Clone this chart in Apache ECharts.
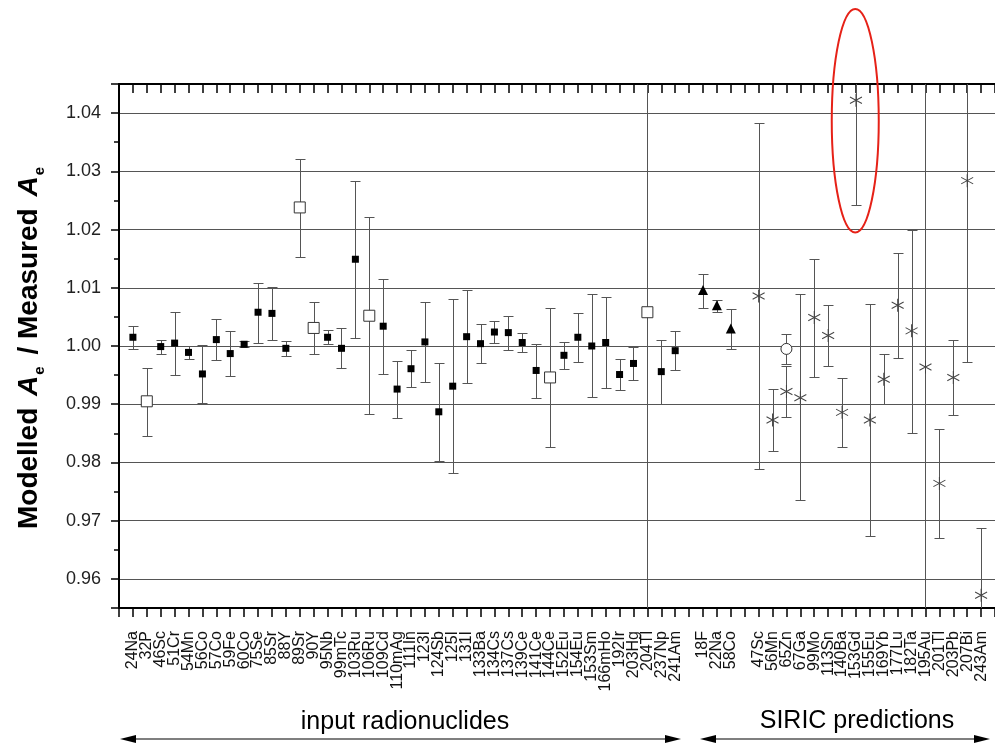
<!DOCTYPE html>
<html>
<head>
<meta charset="utf-8">
<script src="https://cdn.jsdelivr.net/npm/echarts@6/dist/echarts.min.js"></script>
<style>
html, body { margin: 0; padding: 0; background: #fff; }
#main { width: 995px; height: 744px; }
</style>
</head>
<body>
<div id="main"></div>
<script>
// x positions: index in this list ('' = empty slot)
var labels = ['', '24Na', '32P', '46Sc', '51Cr', '54Mn', '56Co', '57Co', '59Fe', '60Co', '75Se',
    '85Sr', '88Y', '89Sr', '90Y', '95Nb', '99mTc', '103Ru', '106Ru', '109Cd', '110mAg',
    '111In', '123I', '124Sb', '125I', '131I', '133Ba', '134Cs', '137Cs', '139Ce', '141Ce',
    '144Ce', '152Eu', '154Eu', '153Sm', '166mHo', '192Ir', '203Hg', '204Tl', '237Np', '241Am',
    '', '18F', '22Na', '58Co', '',
    '47Sc', '56Mn', '65Zn', '67Ga', '99Mo', '113Sn', '140Ba', '153Gd', '155Eu', '169Yb',
    '177Lu', '182Ta', '195Au', '201Tl', '203Pb', '207Bi', '243Am'];

// input radionuclides, filled squares
var sqNames = ['24Na', '46Sc', '51Cr', '54Mn', '56Co', '57Co', '59Fe', '60Co', '75Se', '85Sr',
    '88Y', '95Nb', '99mTc', '103Ru', '109Cd', '110mAg', '111In', '123I', '124Sb', '125I',
    '131I', '133Ba', '134Cs', '137Cs', '139Ce', '141Ce', '152Eu', '154Eu', '153Sm', '166mHo',
    '192Ir', '203Hg', '237Np', '241Am'];
var sqVal = [1.0015, 0.9999, 1.0005, 0.9989, 0.9952, 1.0011, 0.9987, 1.0003, 1.0058, 1.0056,
    0.9996, 1.0015, 0.9996, 1.0149, 1.0034, 0.9926, 0.9961, 1.0007, 0.9887, 0.9931,
    1.0016, 1.0004, 1.0024, 1.0023, 1.0006, 0.9958, 0.9984, 1.0015, 1.0000, 1.0006,
    0.9951, 0.9970, 0.9956, 0.9992];
var sqLo = [0.9994, 0.9986, 0.9951, 0.9977, 0.9902, 0.9976, 0.9949, 0.9998, 1.0006, 1.0010,
    0.9983, 1.0003, 0.9963, 1.0014, 0.9952, 0.9877, 0.9929, 0.9939, 0.9803, 0.9782,
    0.9936, 0.9970, 1.0005, 0.9993, 0.9989, 0.9911, 0.9960, 0.9972, 0.9913, 0.9928,
    0.9924, 0.9941, 0.9900, 0.9959];
var sqHi = [1.0035, 1.0011, 1.0059, 1.0000, 1.0002, 1.0046, 1.0025, 1.0009, 1.0109, 1.0101,
    1.0009, 1.0027, 1.0031, 1.0284, 1.0115, 0.9975, 0.9993, 1.0075, 0.9970, 1.0080,
    1.0096, 1.0037, 1.0043, 1.0052, 1.0023, 1.0004, 1.0007, 1.0057, 1.0089, 1.0084,
    0.9978, 0.9999, 1.0011, 1.0025];

// input radionuclides, open squares
var openNames = ['32P', '89Sr', '90Y', '106Ru', '144Ce', '204Tl'];
var openVal = [0.9905, 1.0238, 1.0031, 1.0052, 0.9946, 1.0058];
var openLo = [0.9846, 1.0153, 0.9987, 0.9883, 0.9826, 0.9000];
var openHi = [0.9962, 1.0322, 1.0075, 1.0221, 1.0065, 1.1000];

// triangles
var triNames = ['18F', '22Na', '58Co'];
var triVal = [1.0096, 1.0070, 1.0030];
var triLo = [1.0066, 1.0058, 0.9994];
var triHi = [1.0123, 1.0079, 1.0063];

// open circle
var circNames = ['65Zn'];
var circVal = [0.9995];
var circLo = [0.9969];
var circHi = [1.0020];

// SIRIC predictions, asterisks
var starNames = ['47Sc', '56Mn', '65Zn', '67Ga', '99Mo', '113Sn', '140Ba', '153Gd', '155Eu',
    '169Yb', '177Lu', '182Ta', '195Au', '201Tl', '203Pb', '207Bi', '243Am'];
var starVal = [1.0086, 0.9873, 0.9922, 0.9911, 1.0049, 1.0018, 0.9886, 1.0422, 0.9873,
    0.9943, 1.0070, 1.0026, 0.9964, 0.9764, 0.9946, 1.0284, 0.9572];
var starLo = [0.9789, 0.9820, 0.9878, 0.9735, 0.9947, 0.9965, 0.9827, 1.0243, 0.9673,
    0.9900, 0.9979, 0.9851, 0.9000, 0.9671, 0.9882, 0.9972, 0.9450];
var starHi = [1.0383, 0.9926, 0.9966, 1.0089, 1.0150, 1.0071, 0.9945, 1.0600, 1.0072,
    0.9986, 1.0159, 1.0200, 1.1000, 0.9857, 1.0010, 1.0600, 0.9687];

var yTicks = ['0.96', '0.97', '0.98', '0.99', '1.00', '1.01', '1.02', '1.03', '1.04'];

var FONT = '"Liberation Sans", Arial, sans-serif';

function pts(names, vals) {
    return names.map(function (n, i) { return [labels.indexOf(n), vals[i]]; });
}
function bars(names, lo, hi) {
    return names.map(function (n, i) { return [labels.indexOf(n), lo[i], hi[i]]; });
}

var errData = [].concat(
    bars(sqNames, sqLo, sqHi),
    bars(openNames, openLo, openHi),
    bars(triNames, triLo, triHi),
    bars(circNames, circLo, circHi),
    bars(starNames, starLo, starHi)
);

function renderErr(params, api) {
    var x = api.value(0);
    var lo = api.coord([x, api.value(1)]);
    var hi = api.coord([x, api.value(2)]);
    var px = Math.round(lo[0]) + 0.5;
    var y1 = Math.round(lo[1]) + 0.5;
    var y2 = Math.round(hi[1]) + 0.5;
    var st = { stroke: '#555', lineWidth: 1, fill: null };
    return {
        type: 'group',
        children: [
            { type: 'line', shape: { x1: px, y1: y1, x2: px, y2: y2 }, style: st },
            { type: 'line', shape: { x1: px - 5, y1: y1, x2: px + 5, y2: y1 }, style: st },
            { type: 'line', shape: { x1: px - 5, y1: y2, x2: px + 5, y2: y2 }, style: st }
        ]
    };
}

var chart = echarts.init(document.getElementById('main'));

var option = {
    animation: false,
    backgroundColor: '#fff',
    textStyle: { fontFamily: FONT },
    grid: { left: 119, top: 84, width: 881.5, height: 524 },
    xAxis: [{
        type: 'value',
        position: 'bottom',
        min: 0,
        max: 63,
        interval: 1,
        axisLine: { lineStyle: { color: '#000', width: 2 } },
        axisTick: { inside: false, length: 9, lineStyle: { color: '#000', width: 1.5 } },
        axisLabel: {
            rotate: 90,
            margin: 23,
            fontSize: 16,
            color: '#111',
            fontFamily: FONT,
            formatter: function (v) { return labels[v] || ''; }
        },
        splitLine: { show: false }
    }, {
        type: 'value',
        position: 'top',
        min: 0,
        max: 63,
        interval: 1,
        axisLine: { lineStyle: { color: '#000', width: 2 } },
        axisTick: { inside: true, length: 9, lineStyle: { color: '#000', width: 1.5 } },
        axisLabel: { show: false },
        splitLine: { show: false }
    }],
    yAxis: {
        type: 'value',
        min: 0.955,
        max: 1.045,
        splitNumber: 9,
        axisLine: { show: true, lineStyle: { color: '#000', width: 2 } },
        axisTick: { show: true, inside: false, length: 8, lineStyle: { color: '#000', width: 1.5 } },
        minorTick: { show: true, splitNumber: 2, length: 5, lineStyle: { color: '#000', width: 1.5 } },
        axisLabel: {
            margin: 18,
            fontSize: 18,
            color: '#222',
            fontFamily: FONT,
            showMinLabel: false,
            showMaxLabel: false,
            formatter: function (v) {
                var s = v.toFixed(2);
                return yTicks.indexOf(s) >= 0 ? s : '';
            }
        },
        splitLine: { show: true, lineStyle: { color: '#555', width: 1 } },
        name: '{b|Modelled }{i|A}{s|e}{b| / Measured }{i|A}{s|e}',
        nameLocation: 'middle',
        nameRotate: 90,
        nameGap: 72,
        nameTextStyle: {
            fontFamily: FONT,
            color: '#000',
            rich: {
                b: { fontSize: 28, fontWeight: 'bold', lineHeight: 36, fontFamily: FONT },
                i: { fontSize: 28, fontWeight: 'bold', fontStyle: 'italic', lineHeight: 36, fontFamily: FONT, padding: [0, 1, 0, 4] },
                s: { fontSize: 15, fontWeight: 'bold', verticalAlign: 'bottom', fontFamily: FONT, padding: [0, 4, 0, 0] }
            }
        }
    },
    series: [{
        type: 'custom',
        clip: true,
        renderItem: renderErr,
        data: errData,
        z: 2
    }, {
        type: 'scatter',
        data: pts(sqNames, sqVal),
        symbol: 'rect',
        symbolSize: 7,
        itemStyle: { color: '#000', opacity: 1 },
        z: 5
    }, {
        type: 'scatter',
        data: pts(openNames, openVal),
        symbol: 'rect',
        symbolSize: 11,
        itemStyle: { color: '#fff', borderColor: '#333', borderWidth: 1, opacity: 1 },
        z: 5
    }, {
        type: 'scatter',
        data: pts(triNames, triVal),
        symbol: 'triangle',
        symbolSize: 10,
        itemStyle: { color: '#000', opacity: 1 },
        z: 5
    }, {
        type: 'scatter',
        data: pts(circNames, circVal),
        symbol: 'circle',
        symbolSize: 11,
        itemStyle: { color: '#fff', borderColor: '#333', borderWidth: 1, opacity: 1 },
        z: 5
    }, {
        type: 'scatter',
        data: pts(starNames, starVal),
        symbol: 'path://M10,0L10,20M1.34,5L18.66,15M1.34,15L18.66,5',
        symbolSize: [12, 13],
        itemStyle: { color: 'none', borderColor: '#444', borderWidth: 1, opacity: 1 },
        z: 5
    }]
};

chart.setOption(option);

// red ellipse around 153Gd, arrows and group captions
var c = chart.convertToPixel({ gridIndex: 0 }, [52.95, 1.0387]);
var t = chart.convertToPixel({ gridIndex: 0 }, [52.95, 1.0579]);
var ry = c[1] - t[1];

function arrow(x1, x2, y) {
    return {
        type: 'group',
        children: [
            { type: 'line', shape: { x1: x1 + 4, y1: y, x2: x2 - 4, y2: y }, style: { stroke: '#000', lineWidth: 1.2 } },
            { type: 'polygon', shape: { points: [[x1, y], [x1 + 16, y - 4], [x1 + 16, y + 4]] }, style: { fill: '#000' } },
            { type: 'polygon', shape: { points: [[x2, y], [x2 - 16, y - 4], [x2 - 16, y + 4]] }, style: { fill: '#000' } }
        ]
    };
}

chart.setOption({
    graphic: [
        {
            type: 'ellipse',
            shape: { cx: c[0], cy: c[1], rx: 23.5, ry: ry },
            style: { fill: null, stroke: '#e62117', lineWidth: 2 },
            z: 100
        },
        {
            type: 'text',
            x: 405, y: 722,
            style: { text: 'input radionuclides', font: '25px ' + FONT, fill: '#000', align: 'center', verticalAlign: 'middle' }
        },
        {
            type: 'text',
            x: 857, y: 721,
            style: { text: 'SIRIC predictions', font: '25px ' + FONT, fill: '#000', align: 'center', verticalAlign: 'middle' }
        },
        arrow(120, 681, 739),
        arrow(700, 990, 739)
    ]
});
</script>
</body>
</html>
